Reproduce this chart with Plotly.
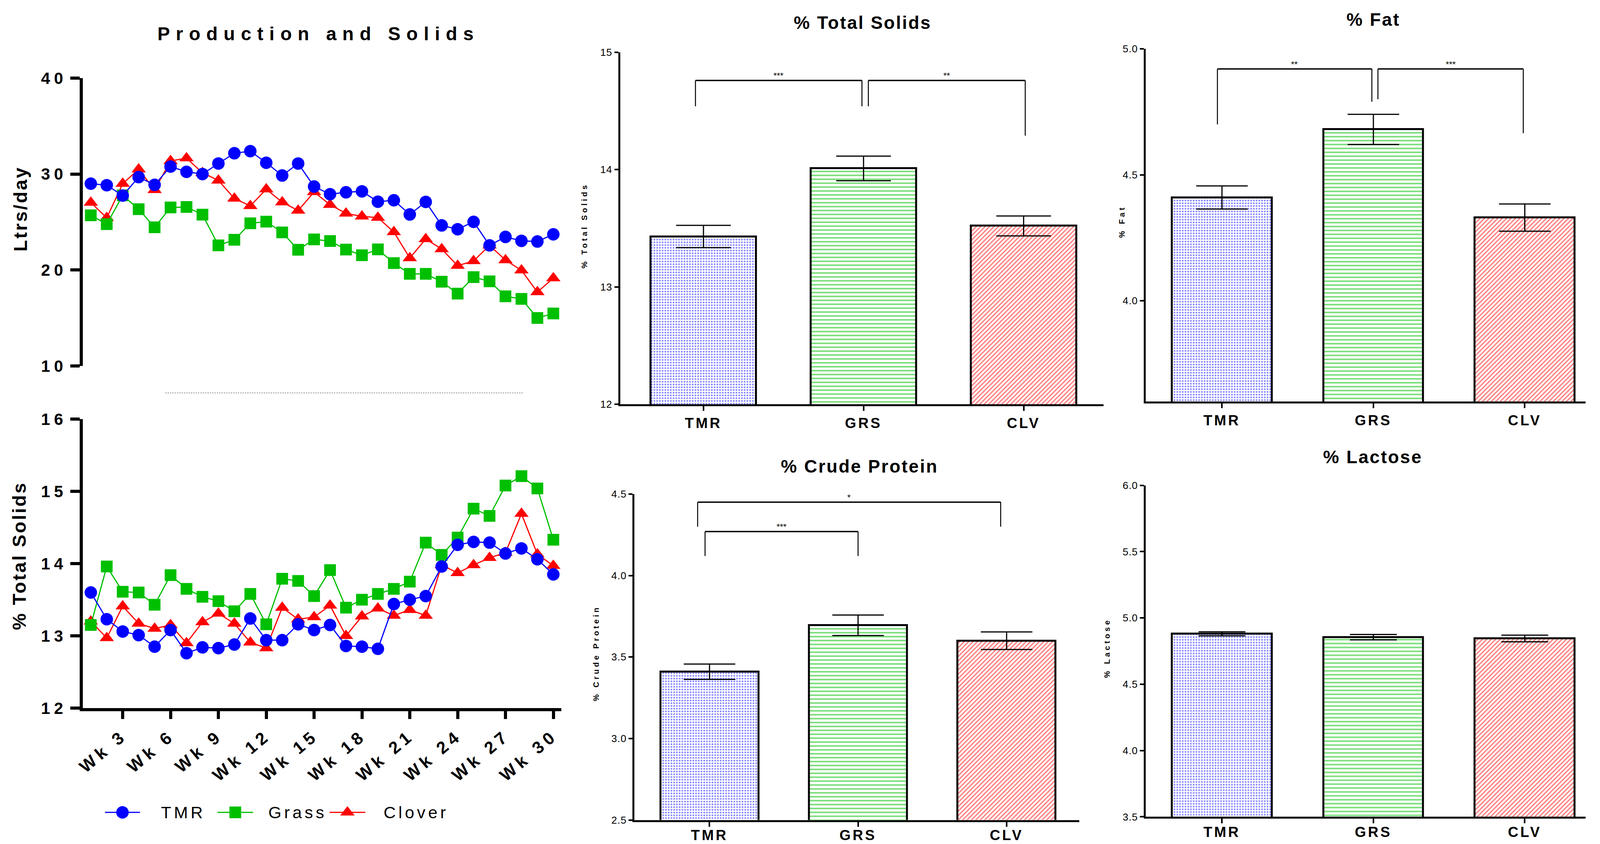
import plotly.graph_objects as go

W, H = 4481, 2161

# ---------------- data ----------------
weeks = list(range(1, 31))
tmr_yield = [29.0, 28.84, 27.76, 29.68, 28.88, 30.78, 30.23, 30.0, 31.1, 32.17,
             32.39, 31.18, 29.85, 31.1, 28.7, 27.9, 28.1, 28.2, 27.12, 27.27,
             25.79, 27.1, 24.65, 24.25, 25.02, 22.57, 23.45, 23.04, 22.97, 23.72]
grass_yield = [25.7, 24.78, 27.78, 26.34, 24.45, 26.52, 26.57, 25.77, 22.57, 23.15,
               24.87, 25.04, 23.92, 22.11, 23.19, 23.02, 22.13, 21.54, 22.15, 20.72,
               19.6, 19.6, 18.78, 17.54, 19.26, 18.82, 17.26, 16.99, 15.0, 15.47]
clover_yield = [27.03, 25.44, 29.0, 30.5, 28.35, 31.37, 31.66, 30.12, 29.34, 27.45,
                26.68, 28.42, 27.07, 26.2, 28.13, 26.8, 25.9, 25.59, 25.46, 23.96,
                21.25, 23.23, 22.18, 20.45, 20.94, 22.57, 21.03, 19.97, 17.7, 19.15]
tmr_ts = [13.6, 13.23, 13.06, 13.01, 12.85, 13.08, 12.76, 12.84, 12.83, 12.88,
          13.24, 12.94, 12.94, 13.16, 13.08, 13.15, 12.86, 12.85, 12.82, 13.44,
          13.5, 13.55, 13.96, 14.26, 14.3, 14.29, 14.14, 14.21, 14.06, 13.85]
grass_ts = [13.15, 13.96, 13.61, 13.6, 13.43, 13.84, 13.65, 13.54, 13.48, 13.34,
            13.58, 13.16, 13.79, 13.76, 13.55, 13.91, 13.39, 13.5, 13.58, 13.65,
            13.75, 14.29, 14.12, 14.36, 14.76, 14.66, 15.08, 15.21, 15.04, 14.33]
clover_ts = [13.2, 12.97, 13.41, 13.17, 13.1, 13.15, 12.9, 13.19, 13.31, 13.17,
             12.91, 12.83, 13.39, 13.23, 13.26, 13.42, 13.0, 13.27, 13.38, 13.28,
             13.36, 13.28, 13.98, 13.87, 13.98, 14.08, 14.15, 14.69, 14.13, 13.97]
week_ticks = [3, 6, 9, 12, 15, 18, 21, 24, 27, 30]
week_tick_labels = ["Wk 3", "Wk 6", "Wk 9", "Wk 12", "Wk 15", "Wk 18",
                    "Wk 21", "Wk 24", "Wk 27", "Wk 30"]
yield_ticks = [10, 20, 30, 40]
ts_line_ticks = [12, 13, 14, 15, 16]

groups = ["TMR", "GRS", "CLV"]
ts_mean = [13.43, 14.01, 13.52]
ts_sem = [0.095, 0.105, 0.085]
fat_mean = [4.41, 4.68, 4.33]
fat_sem = [0.046, 0.06, 0.054]
cp_mean = [3.41, 3.695, 3.60]
cp_sem = [0.047, 0.063, 0.054]
lac_mean = [4.88, 4.855, 4.845]
lac_sem = [0.015, 0.02, 0.025]

ts_bar_ticks = [12, 13, 14, 15]
fat_ticks = [4.0, 4.5, 5.0]
cp_ticks = [2.5, 3.0, 3.5, 4.0, 4.5]
lac_ticks = [3.5, 4.0, 4.5, 5.0, 5.5, 6.0]

# significance brackets: (x-axis, y-axis, x0, x1, top, left leg end, right leg end, label)
brackets = [
    ("x3", "y3", -0.05, 0.99, 14.76, 14.54, 14.54, "***"),
    ("x3", "y3", 1.03, 2.01, 14.76, 14.54, 14.29, "**"),
    ("x4", "y4", -0.03, 0.99, 4.92, 4.70, 4.79, "**"),
    ("x4", "y4", 1.03, 1.99, 4.92, 4.80, 4.665, "***"),
    ("x5", "y5", -0.08, 1.96, 4.45, 4.30, 4.30, "*"),
    ("x5", "y5", -0.03, 1.00, 4.27, 4.12, 4.12, "***"),
]

# ---------------- style ----------------
BLUE = "#0000FF"
GREEN = "#00BF00"
RED = "#FF0000"
FONT = "Liberation Sans, Arial, Helvetica, sans-serif"


def sp(t, s):
    return f'<span style="letter-spacing:{s}px">{t}</span>'


def fx(px):
    return px / W


def fy(py):
    return 1 - py / H


fig = go.Figure()

# ---------------- line charts ----------------
series = [
    ("Clover", clover_yield, clover_ts, RED, "triangle-up", 32),
    ("Grass", grass_yield, grass_ts, GREEN, "square", 30),
    ("TMR", tmr_yield, tmr_ts, BLUE, "circle", 32),
]
for name, yv, tv, col, sym, size in series:
    for xa, ya, vals in (("x", "y", yv), ("x2", "y2", tv)):
        fig.add_trace(go.Scatter(
            x=weeks, y=vals, xaxis=xa, yaxis=ya, name=name, mode="lines+markers",
            line=dict(color=col, width=3),
            marker=dict(symbol=sym, size=size, color=col, line=dict(width=0)),
            showlegend=False, cliponaxis=False))

# ---------------- bar charts ----------------
bar_panels = [
    ("x3", "y3", ts_mean, ts_sem, 70),
    ("x4", "y4", fat_mean, fat_sem, 66),
    ("x5", "y5", cp_mean, cp_sem, 66),
    ("x6", "y6", lac_mean, lac_sem, 60),
]
for xa, ya, means, sems, capw in bar_panels:
    fig.add_trace(go.Bar(
        x=list(range(len(groups))), y=means, xaxis=xa, yaxis=ya, width=0.66,
        marker=dict(
            color="white",
            line=dict(color="black", width=5),
            pattern=dict(shape=[".", "-", "/"], fgcolor=[BLUE, GREEN, RED],
                         bgcolor="white", size=[7, 10, 8],
                         solidity=[0.32, 0.4, 0.42], fillmode="overlay")),
        error_y=dict(type="data", array=sems, visible=True, color="black",
                     thickness=3, width=capw),
        showlegend=False, hoverinfo="y"))

shapes = []
annotations = []
for xa, ya, x0, x1, top, l0, l1, lab in brackets:
    shapes.append(dict(type="line", xref=xa, yref=ya, x0=x0, x1=x1, y0=top, y1=top,
                       line=dict(color="black", width=3.5)))
    shapes.append(dict(type="line", xref=xa, yref=ya, x0=x0, x1=x0, y0=top, y1=l0,
                       line=dict(color="black", width=2.5)))
    shapes.append(dict(type="line", xref=xa, yref=ya, x0=x1, x1=x1, y0=top, y1=l1,
                       line=dict(color="black", width=2.5)))
    annotations.append(dict(xref=xa, yref=ya, x=(x0 + x1) / 2, y=top, text=lab,
                            showarrow=False, yanchor="bottom", yshift=-2,
                            font=dict(size=22, color="black", family=FONT)))

# faint dotted line under the top chart
shapes.append(dict(type="line", xref="paper", yref="paper", x0=fx(463), x1=fx(1466),
                   y0=fy(1006), y1=fy(1006), line=dict(color="#888888", width=2, dash="dot")))

# ---------------- manual legend ----------------
legend_items = [  # name, colour, symbol, size, line start px, line end px, text px
    ("TMR", BLUE, "circle", 32, 294, 392, 449),
    ("Grass", GREEN, "square", 30, 609, 709, 749),
    ("Clover", RED, "triangle-up", 32, 923, 1023, 1072),
]
LEG_Y = H - 2080
for name, col, sym, size, a, b, tx in legend_items:
    fig.add_trace(go.Scatter(x=[a, b], y=[LEG_Y, LEG_Y], xaxis="x7", yaxis="y7",
                             mode="lines", line=dict(color=col, width=3),
                             showlegend=False, hoverinfo="skip"))
    fig.add_trace(go.Scatter(x=[(a + b) / 2], y=[LEG_Y], xaxis="x7", yaxis="y7",
                             mode="markers", marker=dict(symbol=sym, size=size, color=col),
                             showlegend=False, hoverinfo="skip"))
    annotations.append(dict(xref="x7", yref="y7", x=tx, y=LEG_Y, text=sp(name, 7),
                            showarrow=False, xanchor="left", yanchor="middle",
                            font=dict(size=43, color="black", family=FONT)))


# ---------------- titles ----------------
def title(x, y, text, size, spacing, angle=0, bold=True):
    annotations.append(dict(xref="paper", yref="paper", x=fx(x), y=fy(y), text=sp(text, spacing),
                            showarrow=False, xanchor="center", yanchor="middle", textangle=angle,
                            font=dict(size=size, color="black", family=FONT,
                                      weight="bold" if bold else "normal")))


title(892, 86, "Production and Solids", 48, 15)
title(57, 535, "Ltrs/day", 48, 4, -90)
title(54, 1423, "% Total Solids", 48, 4, -90)
title(2416, 58, "% Total Solids", 46, 3)
title(3846, 50, "% Fat", 46, 3)
title(2407, 1194, "% Crude Protein", 46, 3)
title(3845, 1170, "% Lactose", 46, 3)
title(1637, 578, "% Total Solids", 20, 6, -90)
title(3142, 568, "% Fat", 20, 6, -90)
title(1669, 1673, "% Crude Protein", 20, 6, -90)
title(3100, 1659, "% Lactose", 20, 6, -90)


# ---------------- axes ----------------
def line_y(domain, rng, ticks):
    return dict(domain=domain, range=rng, tickvals=ticks,
                ticktext=[sp(str(t), 10) for t in ticks],
                showline=True, linewidth=8, linecolor="black", ticks="outside",
                ticklen=24, tickwidth=8, tickcolor="black", showgrid=False, zeroline=False,
                tickfont=dict(size=42, color="black", family=FONT, weight="bold"))


def bar_x(domain, rng, anchor, standoff):
    return dict(domain=domain, range=rng, anchor=anchor, tickvals=list(range(len(groups))),
                ticktext=[sp(g, 5) for g in groups], showline=True, linewidth=5,
                linecolor="black", ticks="outside", ticklen=12, tickwidth=4,
                tickcolor="black", showgrid=False, zeroline=False,
                ticklabelstandoff=standoff,
                tickfont=dict(size=37, color="black", family=FONT, weight="bold"))


def bar_y(domain, rng, ticks, anchor, fmt):
    return dict(domain=domain, range=rng, anchor=anchor, tickvals=ticks,
                ticktext=[sp(fmt.format(t), 1) for t in ticks], showline=True,
                linewidth=5, linecolor="black", ticks="outside", ticklen=10,
                tickwidth=4, tickcolor="black", showgrid=False, zeroline=False,
                tickfont=dict(size=26, color="black", family=FONT))


line_dom_x = [fx(232), fx(1572)]
layout = dict(
    autosize=True, margin=dict(l=0, r=0, t=0, b=0, autoexpand=False),
    paper_bgcolor="white", plot_bgcolor="rgba(0,0,0,0)",
    font=dict(family=FONT, color="black"),
    showlegend=False, bargap=0,
    xaxis=dict(domain=line_dom_x, range=[0.5, 30.5], anchor="y", visible=False),
    yaxis=dict(anchor="x", **line_y([fy(937), fy(200)], [10, 40], yield_ticks)),
    xaxis2=dict(domain=line_dom_x, range=[0.5, 30.5], anchor="y2", tickvals=week_ticks,
                ticktext=[sp(t, 10) for t in week_tick_labels], tickangle=-40,
                showline=True, linewidth=8, linecolor="black", ticks="outside",
                ticklen=20, tickwidth=8, tickcolor="black", showgrid=False, zeroline=False,
                tickfont=dict(size=44, color="black", family=FONT, weight="bold")),
    yaxis2=dict(anchor="x2", **line_y([fy(1813), fy(1073)], [12, 16], ts_line_ticks)),
    xaxis3=bar_x([fx(1737), fx(3091)], [-0.52, 2.5], "y3", 0),
    yaxis3=bar_y([fy(1035), fy(134)], [12, 15], ts_bar_ticks, "x3", "{:.0f}"),
    xaxis4=bar_x([fx(3209), fx(4440)], [-0.503, 2.40], "y4", 0),
    yaxis4=bar_y([fy(1028), fy(125)], [3.6, 5.0], fat_ticks, "x4", "{:.1f}"),
    xaxis5=bar_x([fx(1777), fx(3023)], [-0.505, 2.49], "y5", -10),
    yaxis5=bar_y([fy(2099.6), fy(1265)], [2.5, 4.5], cp_ticks, "x5", "{:.1f}"),
    xaxis6=bar_x([fx(3209), fx(4440)], [-0.503, 2.40], "y6", -10),
    yaxis6=bar_y([fy(2091.4), fy(1242.7)], [3.5, 6.0], lac_ticks, "x6", "{:.1f}"),
    xaxis7=dict(domain=[0, 0.3], range=[0, 0.3 * W], anchor="y7", visible=False),
    yaxis7=dict(domain=[0, 0.075], range=[0, 0.075 * H], anchor="x7", visible=False),
    shapes=shapes, annotations=annotations,
)
fig.update_layout(**layout)

post = ("document.documentElement.style.margin='0';document.body.style.margin='0';"
        "document.body.style.overflow='hidden';"
        "var gd=document.getElementById('{plot_id}');"
        "gd.style.width='100vw';gd.style.height='100vh';"
        "Plotly.Plots.resize(gd);")
fig.write_html("out.html", default_width="100vw", default_height="100vh",
               post_script=post, config={"displayModeBar": False, "responsive": True})
